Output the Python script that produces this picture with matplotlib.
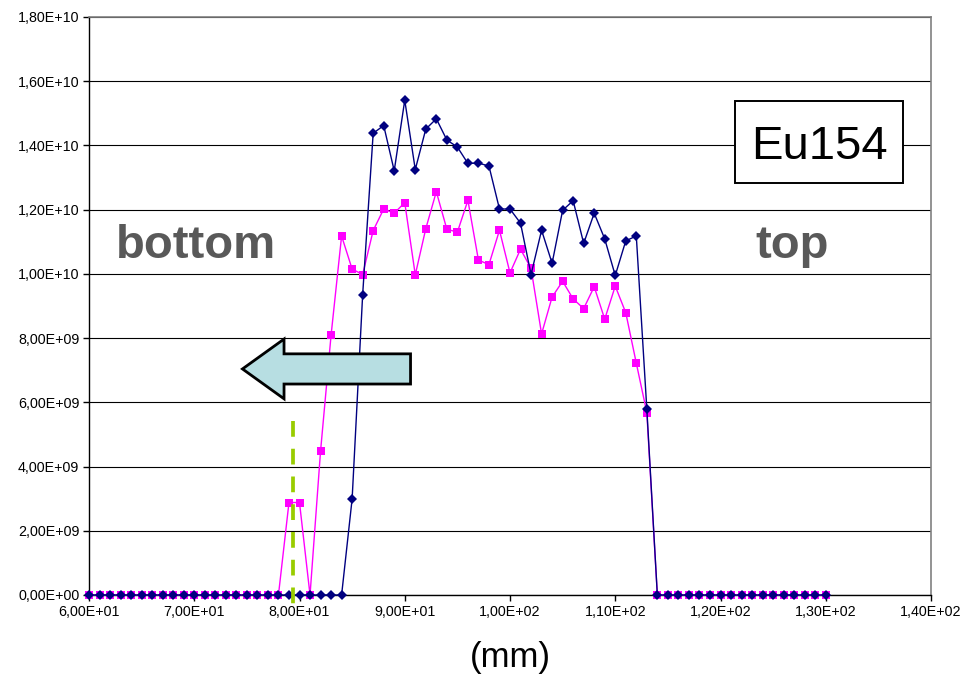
import matplotlib
matplotlib.use("Agg")
import matplotlib.pyplot as plt
from matplotlib.patches import Polygon, Rectangle
from matplotlib.ticker import FixedLocator, FuncFormatter

plt.rcParams['font.family'] = ['Liberation Sans', 'DejaVu Sans']

# ---------------- data ----------------
positions_mm = list(range(60, 131))

series_navy = [0.0] * 25 + [
    2.99e9, 9.35e9, 14.38e9, 14.62e9, 13.21e9, 15.41e9, 13.25e9, 14.51e9,
    14.83e9, 14.17e9, 13.95e9, 13.44e9, 13.45e9, 13.36e9, 12.02e9, 12.02e9,
    11.58e9, 9.98e9, 11.36e9, 10.33e9, 11.98e9, 12.28e9, 10.95e9, 11.89e9,
    11.09e9, 9.95e9, 11.03e9, 11.18e9, 5.79e9,
] + [0.0] * 17

series_magenta = [0.0] * 19 + [
    2.88e9, 2.88e9, 0.0, 4.48e9, 8.09e9, 11.18e9, 10.15e9, 9.98e9,
    11.35e9, 12.02e9, 11.89e9, 12.22e9, 9.97e9, 11.41e9, 12.56e9, 11.39e9,
    11.30e9, 12.29e9, 10.43e9, 10.29e9, 11.36e9, 10.03e9, 10.77e9, 10.17e9,
    8.13e9, 9.28e9, 9.77e9, 9.22e9, 8.92e9, 9.60e9, 8.59e9, 9.62e9,
    8.79e9, 7.22e9, 5.68e9,
] + [0.0] * 17

x_ticks = [60, 70, 80, 90, 100, 110, 120, 130, 140]
y_ticks = [0, 2e9, 4e9, 6e9, 8e9, 1e10, 1.2e10, 1.4e10, 1.6e10, 1.8e10]

title_label = "Eu154"
left_label = "bottom"
right_label = "top"
x_label = "(mm)"

# ---------------- figure ----------------
W, H = 967, 680
fig = plt.figure(figsize=(W / 100, H / 100), dpi=100)
L, R, T, B = 89, 931, 17, 595
ax = fig.add_axes([L / W, 1 - B / H, (R - L) / W, (B - T) / H])

ax.set_xlim(60, 140)
ax.set_ylim(0, 1.8e10)

fmt = FuncFormatter(lambda v, p: f"{v:.2E}".replace('.', ','))
ax.xaxis.set_major_locator(FixedLocator(x_ticks))
ax.yaxis.set_major_locator(FixedLocator(y_ticks))
ax.xaxis.set_major_formatter(fmt)
ax.yaxis.set_major_formatter(fmt)
ax.tick_params(axis='both', direction='out', length=4, width=1, color='black',
               labelsize=10.3, labelcolor='black')
ax.tick_params(axis='x', pad=3)
ax.tick_params(axis='y', pad=3)

ax.grid(axis='y', color='black', linewidth=0.8, zorder=0)
ax.set_axisbelow(True)

for s in ('left', 'bottom'):
    ax.spines[s].set_color('black')
    ax.spines[s].set_linewidth(1.0)
for s in ('top', 'right'):
    ax.spines[s].set_color('#808080')
    ax.spines[s].set_linewidth(1.2)

ax.plot(positions_mm, series_magenta, color='#FF00FF', linewidth=1.0,
        marker='s', markersize=5.4, markeredgewidth=0, zorder=3, clip_on=False)
ax.plot(positions_mm, series_navy, color='#000080', linewidth=1.0,
        marker='D', markersize=5.0, markeredgewidth=0, zorder=3.1, clip_on=False)

# arrow (data coords)
tip_x, head_x, tail_x = 74.58, 78.53, 90.55
cy, body_h, head_h = 7.04e9, 0.47e9, 0.93e9
arrow = Polygon([
    (tip_x, cy), (head_x, cy + head_h), (head_x, cy + body_h),
    (tail_x, cy + body_h), (tail_x, cy - body_h), (head_x, cy - body_h),
    (head_x, cy - head_h)], closed=True, facecolor='#B7DEE2',
    edgecolor='black', linewidth=2.0, zorder=4)
ax.add_patch(arrow)

# green dashed marker line
ax.plot([79.4, 79.4], [5.42e9, -0.31e9], color='#99CC00', linewidth=2.7,
        dashes=(4.2, 3.2), zorder=5, clip_on=False)

# side labels
ax.text(70.15, 10.5e9, left_label, fontsize=34, fontweight='bold',
        color='#595959', ha='center', va='baseline', zorder=6)
ax.text(126.8, 10.5e9, right_label, fontsize=34, fontweight='bold',
        color='#595959', ha='center', va='baseline', zorder=6)

# Eu154 box
bx0, bx1, by0, by1 = 121.39, 137.32, 12.83e9, 15.39e9
ax.add_patch(Rectangle((bx0, by0), bx1 - bx0, by1 - by0, facecolor='white',
                       edgecolor='black', linewidth=1.4, zorder=6))
ax.text((bx0 + bx1) / 2, (by0 + by1) / 2, title_label, fontsize=34,
        color='black', ha='center', va='center_baseline', zorder=7)

fig.text((L + R) / 2 / W, 1 - 657 / H, x_label, fontsize=25, ha='center',
         va='center')

fig.savefig("out.png", dpi=100)
